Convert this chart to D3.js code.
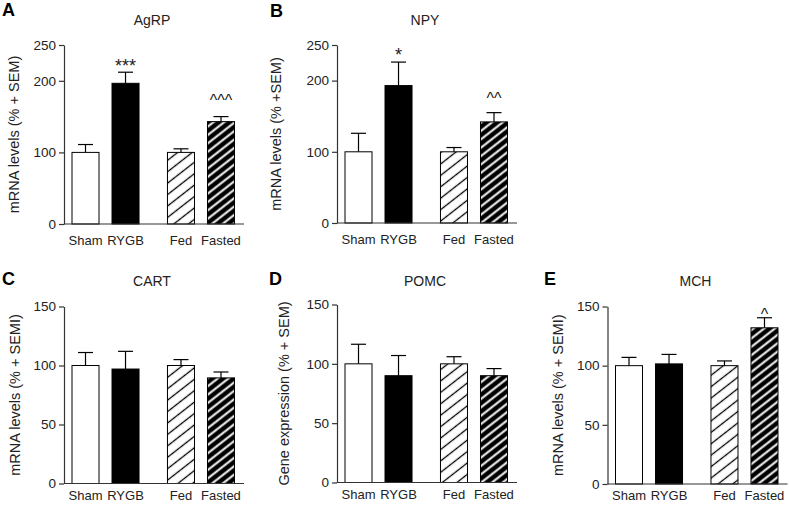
<!DOCTYPE html>
<html><head><meta charset="utf-8">
<script src="https://cdn.jsdelivr.net/npm/d3@7"></script>
<style>
body{margin:0;background:#fff}
svg{display:block;font-family:"Liberation Sans",Arial,sans-serif}
</style>
</head><body>
<svg id="c" width="789" height="505"></svg>
<script>
// ---------- data ----------
const categories = ["Sham", "RYGB", "Fed", "Fasted"];
const groups = ["surgery", "diet"];
const groupMembers = {surgery: ["Sham", "RYGB"], diet: ["Fed", "Fasted"]};
const genes = ["AgRP", "NPY", "CART", "POMC", "MCH"];
const panelLetters = ["A", "B", "C", "D", "E"];
const yLabels = ["mRNA levels (% + SEM)", "mRNA levels (% +SEM)", "mRNA levels (% + SEMI)",
                 "Gene expression (% + SEM)", "mRNA levels (% + SEMI)"];
const agrpMean = [100, 196.5, 100, 143];
const agrpSem  = [11, 15.5, 5, 7];
const npyMean  = [100, 193, 100, 142];
const npySem   = [26, 33, 6, 13];
const cartMean = [100, 97, 100, 89.5];
const cartSem  = [11, 15, 5, 5];
const pomcMean = [100, 90, 100, 90];
const pomcSem  = [16.5, 17, 6, 6];
const mchMean  = [100, 101.5, 100, 132];
const mchSem   = [7, 8, 4, 8.5];
const ticksTopRow = [0, 100, 200, 250];
const ticksBottomRow = [0, 50, 100, 150];
const annotations = [
  {gene: "AgRP", cat: "RYGB", text: "***", level: 212.5},
  {gene: "AgRP", cat: "Fasted", text: "^^^", level: 165},
  {gene: "NPY", cat: "RYGB", text: "*", level: 228},
  {gene: "NPY", cat: "Fasted", text: "^^", level: 166.5},
  {gene: "MCH", cat: "Fasted", text: "^", level: 138.5}
];
const means = {AgRP: agrpMean, NPY: npyMean, CART: cartMean, POMC: pomcMean, MCH: mchMean};
const sems  = {AgRP: agrpSem, NPY: npySem, CART: cartSem, POMC: pomcSem, MCH: mchSem};
const ticksFor = {AgRP: ticksTopRow, NPY: ticksTopRow, CART: ticksBottomRow, POMC: ticksBottomRow, MCH: ticksBottomRow};

// ---------- layout ----------
const layout = [
  {ox: 64,    y0: 224,   y1: 45,    letterX: 2,   letterY: 16,  titleY: 25,  labDy: 21, ylabDx: -50},
  {ox: 337,   y0: 223,   y1: 45,    letterX: 270, letterY: 17,  titleY: 25,  labDy: 21, ylabDx: -61},
  {ox: 64,    y0: 483.5, y1: 306.5, letterX: 2,   letterY: 285, titleY: 286, labDy: 16, ylabDx: -49},
  {ox: 337,   y0: 482.5, y1: 304.5, letterX: 269, letterY: 285, titleY: 286, labDy: 16, ylabDx: -53},
  {ox: 607.5, y0: 484,   y1: 306.5, letterX: 544, letterY: 285, titleY: 286, labDy: 16, ylabDx: -49.5}
];
const fills = {Sham: "#fff", RYGB: "#000", Fed: "url(#hatchFed)", Fasted: "url(#hatchFasted)"};
const textColor = "#222";
const annSize = {"*": 18, "^": 16};

const svg = d3.select("#c");
const defs = svg.append("defs");
// Fed: white with black diagonals
const pf = defs.append("pattern").attr("id", "hatchFed").attr("patternUnits", "userSpaceOnUse")
  .attr("width", 9).attr("height", 9).attr("patternTransform", "rotate(-38)");
pf.append("rect").attr("width", 9).attr("height", 9).attr("fill", "#fff");
pf.append("line").attr("x1", 0).attr("x2", 9).attr("y1", 4.5).attr("y2", 4.5)
  .attr("stroke", "#000").attr("stroke-width", 1.3);
// Fasted: black with white diagonals
const pb = defs.append("pattern").attr("id", "hatchFasted").attr("patternUnits", "userSpaceOnUse")
  .attr("width", 6.6).attr("height", 6.6).attr("patternTransform", "rotate(-38)");
pb.append("rect").attr("width", 6.6).attr("height", 6.6).attr("fill", "#000");
pb.append("line").attr("x1", 0).attr("x2", 6.6).attr("y1", 3.3).attr("y2", 3.3)
  .attr("stroke", "#fff").attr("stroke-width", 2);

genes.forEach((gene, i) => {
  const L = layout[i];
  const ticks = ticksFor[gene];
  const g = svg.append("g");
  const y = d3.scaleLinear().domain([0, d3.max(ticks)]).range([L.y0, L.y1]);
  const outer = d3.scaleBand().domain(groups).range([L.ox, L.ox + 178.5])
    .paddingInner(0.298).paddingOuter(0.0838);
  const inner = {};
  groups.forEach(gr => {
    inner[gr] = d3.scaleBand().domain(groupMembers[gr]).range([0, outer.bandwidth()]).paddingInner(0.325);
  });
  const groupOf = c => groups.find(gr => groupMembers[gr].includes(c));
  const xb = c => outer(groupOf(c)) + inner[groupOf(c)](c);
  const bw = inner.surgery.bandwidth();
  const xc = c => xb(c) + bw / 2;

  // error bars (behind bars)
  categories.forEach((c, k) => {
    const m = means[gene][k], s = sems[gene][k];
    g.append("line").attr("x1", xc(c)).attr("x2", xc(c)).attr("y1", y(m)).attr("y2", y(m + s))
      .attr("stroke", "#000").attr("stroke-width", 1.2);
    g.append("line").attr("x1", xc(c) - 7.5).attr("x2", xc(c) + 7.5).attr("y1", y(m + s)).attr("y2", y(m + s))
      .attr("stroke", "#000").attr("stroke-width", 1.2);
  });
  // bars
  g.selectAll("rect.bar").data(categories).join("rect").attr("class", "bar")
    .attr("x", c => xb(c)).attr("width", bw)
    .attr("y", (c, k) => y(means[gene][k]))
    .attr("height", (c, k) => L.y0 - y(means[gene][k]))
    .attr("fill", c => fills[c]).attr("stroke", "#000").attr("stroke-width", 1);

  // y axis
  const ax = g.append("g").attr("transform", `translate(${L.ox},0)`)
    .call(d3.axisLeft(y).tickValues(ticks).tickSize(5).tickSizeOuter(0).tickPadding(3));
  ax.selectAll("path,line").attr("stroke", "#333").attr("stroke-width", 1.2);
  ax.selectAll("text").attr("font-size", 13.5).attr("fill", textColor)
    .attr("font-family", '"Liberation Sans",Arial,sans-serif');
  // x axis line
  g.append("line").attr("x1", L.ox).attr("x2", L.ox + 180).attr("y1", L.y0).attr("y2", L.y0)
    .attr("stroke", "#333").attr("stroke-width", 1.2);
  // category labels
  g.selectAll("text.cat").data(categories).join("text").attr("class", "cat")
    .attr("x", c => xc(c)).attr("y", L.y0 + L.labDy).attr("text-anchor", "middle")
    .attr("font-size", 13).attr("fill", textColor).text(c => c);
  // title
  g.append("text").attr("x", L.ox + 88).attr("y", L.titleY).attr("text-anchor", "middle")
    .attr("font-size", 14).attr("fill", textColor).text(gene);
  // panel letter
  g.append("text").attr("x", L.letterX).attr("y", L.letterY).attr("font-size", 18)
    .attr("font-weight", "bold").attr("fill", "#000").text(panelLetters[i]);
  // y label
  const cy = (L.y0 + L.y1) / 2;
  g.append("text").attr("transform", `translate(${L.ox + L.ylabDx},${cy}) rotate(-90)`)
    .attr("text-anchor", "middle").attr("dominant-baseline", "central")
    .attr("font-size", 14.5).attr("fill", textColor).text(yLabels[i]);
  // annotations
  annotations.filter(a => a.gene === gene).forEach(a => {
    g.append("text").attr("x", xc(a.cat)).attr("y", y(a.level)).attr("text-anchor", "middle")
      .attr("font-size", annSize[a.text[0]]).attr("fill", textColor).text(a.text);
  });
});
</script>
</body></html>
